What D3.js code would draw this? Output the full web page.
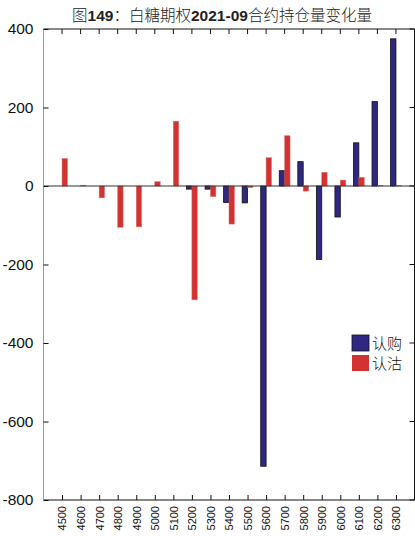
<!DOCTYPE html>
<html><head><meta charset="utf-8">
<script src="https://cdn.jsdelivr.net/npm/d3@7"></script>
<style>body{margin:0;background:#fff}svg{display:block}</style>
</head><body>
<svg id="c" width="415" height="536"></svg>
<script>
const categories = [4500,4600,4700,4800,4900,5000,5100,5200,5300,5400,5500,5600,5700,5800,5900,6000,6100,6200,6300];
const callValues = [0,0,0,0,0,0,0,-8,-8,-42,-43,-714,39,62,-187,-79,110,215,375];
const putValues  = [70,2,-30,-105,-104,11,165,-290,-27,-97,-4,72,128,-13,35,15,22,1,1];
const yTicks = [-800,-600,-400,-200,0,200,400];
const seriesNames = ["认购","认沽"];
const colors = ["#2e2882","#d23232"];

const svg = d3.select("#c");
const L=43.5, R=414.5, T=29, B=500;
const x = d3.scaleLinear().domain([4400,6400]).range([L,R]);
const y = d3.scaleLinear().domain([-800,400]).range([B,T]);
const bw = (x(4600)-x(4500))*0.29;
const font = "'Liberation Sans', Arial, sans-serif";
const fmt = d => String(d);

// bars
const g = svg.append("g");
g.selectAll("rect.call").data(categories).join("rect")
  .attr("x", (d)=>x(d)-bw).attr("width", bw)
  .attr("y", (d,i)=>y(Math.max(0,callValues[i])))
  .attr("height", (d,i)=>Math.abs(y(callValues[i])-y(0)))
  .attr("fill", colors[0]).attr("stroke","#111").attr("stroke-width",0.8);
g.selectAll("rect.put").data(categories).join("rect")
  .attr("x", (d)=>x(d)).attr("width", bw)
  .attr("y", (d,i)=>y(Math.max(0,putValues[i])))
  .attr("height", (d,i)=>Math.abs(y(putValues[i])-y(0)))
  .attr("fill", colors[1]).attr("stroke","#e06a6a").attr("stroke-width",0.5);

// zero line
svg.append("line").attr("x1",L).attr("x2",R).attr("y1",y(0)).attr("y2",y(0))
  .attr("stroke","#333").attr("stroke-width",1.2);

// frame
svg.append("line").attr("x1",L).attr("x2",R).attr("y1",T).attr("y2",T).attr("stroke","#111");
svg.append("line").attr("x1",L).attr("x2",R).attr("y1",B).attr("y2",B).attr("stroke","#111");
svg.append("line").attr("x1",R).attr("x2",R).attr("y1",T).attr("y2",B).attr("stroke","#111");
svg.append("line").attr("x1",L).attr("x2",L).attr("y1",T).attr("y2",B).attr("stroke","#999");

// y axis
const ya = d3.axisLeft(y).tickValues(yTicks).tickSize(-5).tickPadding(10).tickFormat(fmt);
const yg = svg.append("g").attr("transform",`translate(${L},0)`).call(ya);
yg.select(".domain").remove();
yg.selectAll("line").attr("stroke","#111");
yg.selectAll("text").attr("font-family",font).attr("font-size",15.5).attr("fill","#111");
// right ticks
svg.append("g").selectAll("line").data(yTicks).join("line")
  .attr("x1",R).attr("x2",R-5).attr("y1",d=>y(d)).attr("y2",d=>y(d)).attr("stroke","#111");

// x axis bottom
const xa = d3.axisBottom(x).tickValues(categories).tickSize(-5).tickFormat(fmt);
const xg = svg.append("g").attr("transform",`translate(0,${B})`).call(xa);
xg.select(".domain").remove();
xg.selectAll("line").attr("stroke","#111");
xg.selectAll("text").attr("font-family",font).attr("font-size",11).attr("fill","#111")
  .attr("transform","rotate(-90)").attr("text-anchor","end").attr("dy","0.35em")
  .attr("x",-6).attr("y",0);
// top ticks
svg.append("g").selectAll("line").data(categories).join("line")
  .attr("x1",d=>x(d)).attr("x2",d=>x(d)).attr("y1",T).attr("y2",T+5).attr("stroke","#111");

// title
const t = svg.append("text").attr("x",222).attr("y",21).attr("text-anchor","middle")
  .attr("font-family","'Noto Sans CJK SC', sans-serif").attr("font-size",15.5).attr("fill","#222");
const parts = [["图",0],["149",1],["：白糖期权",0],["2021-09",1],["合约持仓量变化量",0]];
parts.forEach(([s,b])=>t.append("tspan").text(s)
  .attr("font-weight",b?"bold":"300").attr("font-family",b?font:"'Noto Sans CJK SC', sans-serif"));

// legend
const lg = svg.append("g");
seriesNames.forEach((n,i)=>{
  const yy = 335 + i*20;
  lg.append("rect").attr("x",352).attr("y",yy).attr("width",17).attr("height",16)
    .attr("fill",colors[i]).attr("stroke", i===0?"#111":"none").attr("stroke-width",0.8);
  lg.append("text").attr("x",372).attr("y",yy+14).text(n)
    .attr("font-family","'Noto Sans CJK SC', sans-serif").attr("font-weight","300").attr("font-size",15).attr("fill","#111");
});
</script>
</body></html>
